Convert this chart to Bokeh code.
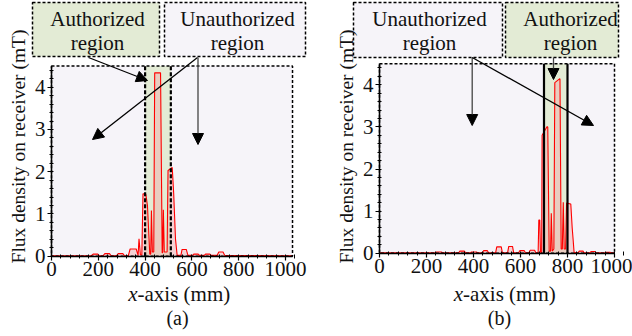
import math

from bokeh.plotting import figure
from bokeh.layouts import row
from bokeh.models import Range1d, LinearAxis, FixedTicker, Arrow, NormalHead, Label
from bokeh.embed import file_html
from bokeh.resources import INLINE

SERIF = "'Liberation Serif', 'Times New Roman', Times, serif"

# Flux density along the x-axis, receiver at 400-510 mm (panel a)
x_a = [0, 170, 178, 198, 205, 220, 228, 248, 255, 278, 285, 305, 312,
       328, 336, 362, 370, 374, 380, 386, 391, 403, 410, 420, 424, 427,
       431, 437, 441, 466, 473, 475, 478, 482, 494, 498, 516, 522, 530,
       537, 553, 558, 576, 583, 603, 608, 627, 632, 653, 658, 677, 682,
       708, 715, 733, 740, 1030]
flux_a = [0.01, 0.01, 0.05, 0.05, 0.01, 0.01, 0.06, 0.06, 0.01, 0.01, 0.06, 0.06, 0.01,
          0.01, 0.17, 0.17, 0.02, 0.41, 0.03, 0.03, 1.48, 1.47, 1.2, 0.05, 0.05, 1.08,
          0.1, 0.1, 4.34, 4.34, 0.08, 0.08, 1.1, 0.1, 0.1, 2.03, 2.1, 1.5, 0.4,
          0.02, 0.02, 0.16, 0.16, 0.02, 0.02, 0.05, 0.05, 0.02, 0.02, 0.05, 0.05, 0.02,
          0.02, 0.1, 0.1, 0.02, 0.01]

# Flux density along the x-axis, receiver at 700-800 mm (panel b)
x_b = [0, 238, 243, 263, 268, 337, 342, 361, 366, 387, 392, 412, 417,
       438, 443, 459, 464, 494, 499, 518, 523, 545, 550, 566, 571, 592,
       597, 616, 621, 636, 641, 660, 665, 675, 678, 682, 685, 690, 692,
       712, 716, 722, 728, 731, 735, 742, 746, 766, 768, 773, 778, 782,
       786, 792, 796, 814, 820, 824, 828, 845, 850, 866, 870, 895, 900,
       917, 921, 960, 964, 981, 985, 1000]
flux_b = [0.01, 0.01, 0.03, 0.03, 0.01, 0.01, 0.05, 0.05, 0.01, 0.01, 0.03, 0.03, 0.01,
          0.01, 0.06, 0.06, 0.01, 0.01, 0.15, 0.15, 0.01, 0.01, 0.16, 0.16, 0.01, 0.01,
          0.06, 0.06, 0.01, 0.01, 0.07, 0.07, 0.01, 0.01, 0.79, 0.79, 0.02, 0.02, 2.8,
          3.0, 3.0, 0.05, 0.05, 0.95, 0.05, 0.1, 4.05, 4.14, 4.14, 0.1, 0.1, 1.21,
          0.1, 0.1, 1.19, 1.17, 0.6, 0.32, 0.02, 0.01, 0.05, 0.05, 0.01, 0.01, 0.04,
          0.04, 0.01, 0.01, 0.02, 0.02, 0.01, 0.01]

auth_a = (400, 510)
auth_b = (700, 800)

x_ticks = [0, 200, 400, 600, 800, 1000]
x_minor = list(range(0, 1041, 40))
y_ticks = [0, 1, 2, 3, 4]
y_minor = [i / 5 for i in range(0, 23)]
y_top = 4.5

LAVENDER = "#f6f4f9"
GREEN = "#e3ebd5"
INK = "#111111"


def make_panel(geo, xs, ys, x_end, auth, auth_dash, boxes, arrows, xlabel_split, caption):
    W, H = 316, 336
    x0, kx, y0, ky = geo

    def d(px, py):
        return (px - x0) / kx, (y0 - py) / ky

    def text(px, py, s, size="21px", align="center", style="normal", angle=0):
        tx, ty = d(px, py)
        p.add_layout(Label(x=tx, y=ty, text=s, text_font=SERIF, text_font_size=size,
                           text_font_style=style, text_align=align, angle=angle,
                           text_baseline="middle", text_color=INK))

    p = figure(width=W, height=H, output_backend="svg", toolbar_location=None,
               x_range=Range1d(-x0 / kx, (W - x0) / kx),
               y_range=Range1d(-(H - y0) / ky, y0 / ky),
               x_axis_type=None, y_axis_type=None, min_border=0)
    p.outline_line_color = None
    p.background_fill_color = "white"
    p.border_fill_color = "white"

    # plot area and authorized band
    p.quad(left=0, right=x_end, bottom=0, top=y_top, fill_color=LAVENDER, line_color=None)
    p.quad(left=auth[0], right=auth[1], bottom=0, top=y_top, fill_color=GREEN, line_color=None)

    # flux curve
    p.varea(x=xs, y1=0, y2=ys, fill_color="#f2a0a0", fill_alpha=0.4)
    p.line(xs, ys, line_color="red", line_width=1.1)

    # region edges
    p.segment(x0=list(auth), y0=[0, 0], x1=list(auth), y1=[y_top, y_top],
              line_color="black", line_width=2.2, line_dash=auth_dash)

    # dashed frame
    p.quad(left=0, right=x_end, bottom=0, top=y_top, fill_color=None,
           line_color="black", line_width=1.5, line_dash="3 2")

    # region callout boxes
    for (l, r, t, b, fill, line1, cx) in boxes:
        xl, yt = d(l, t)
        xr, yb = d(r, b)
        p.quad(left=xl, right=xr, bottom=yb, top=yt, fill_color=fill,
               line_color="black", line_width=1.5, line_dash="3 2")
        text(cx, 18, line1)
        text(cx, 42, "region")

    for (sx, sy, ex, ey, col) in arrows:
        a, b = d(sx, sy)
        c, e = d(ex, ey)
        p.add_layout(Arrow(x_start=a, y_start=b, x_end=c, y_end=e, line_color=col,
                           line_width=1.3,
                           end=NormalHead(size=11, fill_color="black", line_color="black")))

    # axes
    xaxis = LinearAxis(fixed_location=0, bounds=(0, x_end),
                       ticker=FixedTicker(ticks=x_ticks, minor_ticks=x_minor))
    yaxis = LinearAxis(fixed_location=0, bounds=(0, y_top),
                       ticker=FixedTicker(ticks=y_ticks, minor_ticks=y_minor))
    for ax in (xaxis, yaxis):
        ax.axis_line_width = 1.5
        ax.axis_line_color = "black"
        ax.major_tick_out = 4
        ax.major_tick_in = 0
        ax.minor_tick_out = 2
        ax.minor_tick_in = 2
        ax.major_tick_line_width = 1.2
        ax.major_label_text_font = SERIF
        ax.major_label_text_font_size = "21px"
        ax.major_label_text_color = INK
        ax.major_label_standoff = 2
    p.add_layout(xaxis, "below")
    p.add_layout(yaxis, "left")

    # axis titles (italic x) and panel caption
    text(x0 - 33, 146, "Flux density on receiver (mT)", size="19.5px", angle=math.pi / 2)
    text(xlabel_split, 293, "x", align="right", style="italic")
    text(xlabel_split, 293, "-axis (mm)", align="left")
    text(caption[1], 317, caption[0], size="20px")
    return p


pa = make_panel(
    (51, 0.234, 255.7, 42.25), x_a, flux_a, 1030, auth_a, "4 2",
    boxes=[(32, 159, 2, 56, GREEN, "Authorized", 97),
           (164, 305, 2, 56, LAVENDER, "Unauthorized", 237)],
    arrows=[(88, 57, 147, 80, "black"),
            (197, 57, 92, 139, "black"),
            (197.5, 57, 197.5, 144, "#444444")],
    xlabel_split=137, caption=("(a)", 177))

pb = make_panel(
    (63, 0.235, 252.7, 42.1), x_b, flux_b, 1000, auth_b, "solid",
    boxes=[(37, 186, 2, 57, LAVENDER, "Unauthorized", 113),
           (189, 302, 2, 57, GREEN, "Authorized", 254)],
    arrows=[(155.7, 57, 155.7, 125, "#444444"),
            (155.7, 57, 277, 125, "black"),
            (237, 57, 237, 79, "#444444")],
    xlabel_split=146.5, caption=("(b)", 183))

layout = row(pa, pb)
open("out.html", "w").write(file_html(layout, INLINE))
